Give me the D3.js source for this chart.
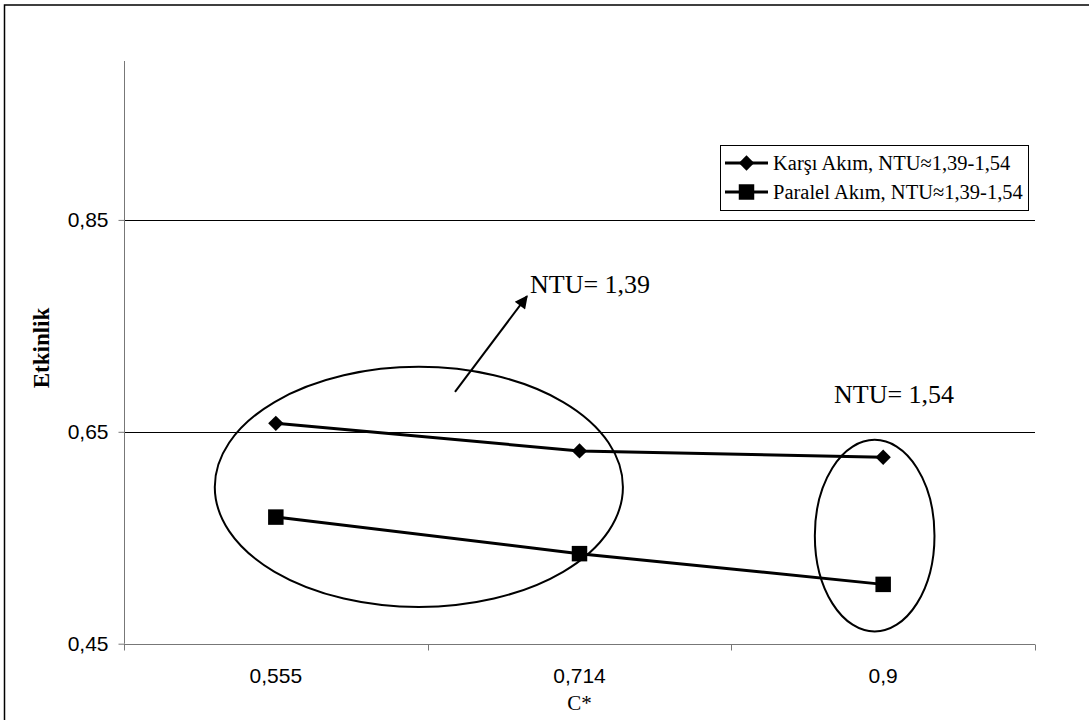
<!DOCTYPE html>
<html>
<head>
<meta charset="utf-8">
<script src="https://cdn.jsdelivr.net/npm/d3@7"></script>
<style>
  body { margin: 0; background: #fff; }
  svg { display: block; }
</style>
</head>
<body>
<svg id="chart"></svg>
<script>
// values
const categories = ["0,555", "0,714", "0,9"];
const karsiAkim = [0.658, 0.632, 0.626];
const paralelAkim = [0.5695, 0.535, 0.506];
const yTicks = [0.45, 0.65, 0.85];
const yDomain = [0.45, 1.0];
const seriesNames = ["Karşı Akım, NTU≈1,39-1,54", "Paralel Akım, NTU≈1,39-1,54"];

// annotations, in data units (u = category slot position 0..3, v = Etkinlik)
const ellipses = [
  { u: 0.971, v: 0.598, ru: 0.672, rv: 0.1133 },
  { u: 2.472, v: 0.552, ru: 0.197, rv: 0.0904 }
];
const arrows = [{ u1: 1.090, v1: 0.6876, u2: 1.327, v2: 0.778 }];
const notes = [
  { u: 1.337, v: 0.781, text: "NTU= 1,39" },
  { u: 2.338, v: 0.677, text: "NTU= 1,54" }
];

const ctx = {
  width: 1089,
  height: 720,
  margin: { top: 61, right: 54, bottom: 76.3, left: 124 }
};

const svg = d3.select("#chart")
  .attr("width", ctx.width)
  .attr("height", ctx.height);

const x0 = ctx.margin.left, x1 = ctx.width - ctx.margin.right;
const y0 = ctx.height - ctx.margin.bottom, y1 = ctx.margin.top;

const xBand = d3.scaleBand().domain(categories).range([x0, x1]);
const uScale = d3.scaleLinear().domain([0, categories.length]).range([x0, x1]);
const yScale = d3.scaleLinear().domain(yDomain).range([y0, y1]);

// chart area frame (runs off the right and bottom edge)
svg.append("rect")
  .attr("x", 4.5).attr("y", 5)
  .attr("width", 1200).attr("height", 800)
  .attr("fill", "none")
  .attr("stroke", "#000")
  .attr("stroke-width", 1.5);

// gridlines
svg.append("g")
  .selectAll("line")
  .data(yTicks.slice(1))
  .join("line")
    .attr("x1", x0).attr("x2", x1)
    .attr("y1", d => Math.round(yScale(d)) + 0.5)
    .attr("y2", d => Math.round(yScale(d)) + 0.5)
    .attr("stroke", "#000")
    .attr("stroke-width", 1);

// y axis
const yAxis = svg.append("g")
  .attr("transform", `translate(${x0 + 0.5},0)`)
  .call(d3.axisLeft(yScale).tickValues(yTicks).tickSize(6).tickPadding(10)
    .tickFormat(d => d3.format(".2f")(d).replace(".", ",")));
yAxis.select(".domain").attr("stroke", "#777").attr("d", `M0,${y0}V${y1}`);
yAxis.selectAll(".tick line").attr("stroke", "#777");
yAxis.selectAll("text")
  .attr("font-family", "Liberation Sans, Arial, sans-serif")
  .attr("font-size", 21)
  .attr("fill", "#000");

// x axis: ticks sit on the category boundaries
const xAxis = svg.append("g")
  .attr("transform", `translate(0,${Math.round(y0) + 0.5})`);
xAxis.append("line")
  .attr("x1", x0).attr("x2", x1)
  .attr("stroke", "#777");
xAxis.selectAll("line.tick")
  .data(d3.range(categories.length + 1))
  .join("line")
    .attr("class", "tick")
    .attr("x1", d => Math.round(uScale(d)) + 0.5)
    .attr("x2", d => Math.round(uScale(d)) + 0.5)
    .attr("y1", 0).attr("y2", 6)
    .attr("stroke", "#777");
xAxis.selectAll("text")
  .data(categories)
  .join("text")
    .attr("x", d => xBand(d) + xBand.bandwidth() / 2)
    .attr("y", 38)
    .attr("text-anchor", "middle")
    .attr("font-family", "Liberation Sans, Arial, sans-serif")
    .attr("font-size", 21)
    .text(d => d);

// axis titles
svg.append("text")
  .attr("x", (x0 + x1) / 2)
  .attr("y", 710)
  .attr("text-anchor", "middle")
  .attr("font-family", "Liberation Serif, Times New Roman, serif")
  .attr("font-size", 21)
  .text("C*");

svg.append("text")
  .attr("transform", "translate(49,348) rotate(-90)")
  .attr("text-anchor", "middle")
  .attr("font-family", "Liberation Serif, Times New Roman, serif")
  .attr("font-weight", "bold")
  .attr("font-size", 23)
  .text("Etkinlik");

// series
const cx = (d, i) => xBand(categories[i]) + xBand.bandwidth() / 2;
const line = d3.line().x(cx).y(d => yScale(d));
const diamond = d3.symbol().type(d3.symbolDiamond2).size(150);
const square = d3.symbol().type(d3.symbolSquare).size(240);

[[karsiAkim, diamond], [paralelAkim, square]].forEach(([vals, sym]) => {
  svg.append("path")
    .datum(vals)
    .attr("d", line)
    .attr("fill", "none")
    .attr("stroke", "#000")
    .attr("stroke-width", 3);
  svg.append("g")
    .selectAll("path")
    .data(vals)
    .join("path")
      .attr("transform", (d, i) => `translate(${cx(d, i)},${yScale(d)})`)
      .attr("d", sym)
      .attr("fill", "#000");
});

// annotations
svg.append("defs").append("marker")
  .attr("id", "head")
  .attr("viewBox", "0 0 10 10")
  .attr("refX", 9).attr("refY", 5)
  .attr("markerWidth", 7.5).attr("markerHeight", 6.5)
  .attr("markerUnits", "strokeWidth")
  .attr("orient", "auto")
  .append("path")
    .attr("d", "M0,0L10,5L0,10z")
    .attr("fill", "#000");

const pxPerU = uScale(1) - uScale(0);
const pxPerV = yScale(0) - yScale(1);
svg.append("g")
  .selectAll("ellipse")
  .data(ellipses)
  .join("ellipse")
    .attr("cx", d => uScale(d.u))
    .attr("cy", d => yScale(d.v))
    .attr("rx", d => d.ru * pxPerU)
    .attr("ry", d => d.rv * pxPerV)
    .attr("fill", "none")
    .attr("stroke", "#000")
    .attr("stroke-width", 2);

svg.append("g")
  .selectAll("line")
  .data(arrows)
  .join("line")
    .attr("x1", d => uScale(d.u1)).attr("y1", d => yScale(d.v1))
    .attr("x2", d => uScale(d.u2)).attr("y2", d => yScale(d.v2))
    .attr("stroke", "#000")
    .attr("stroke-width", 2)
    .attr("marker-end", "url(#head)");

svg.append("g")
  .selectAll("text")
  .data(notes)
  .join("text")
    .attr("x", d => uScale(d.u))
    .attr("y", d => yScale(d.v))
    .attr("font-family", "Liberation Serif, Times New Roman, serif")
    .attr("font-size", 26)
    .text(d => d.text);

// legend
const legend = svg.append("g").attr("transform", "translate(720,145)");
legend.append("rect")
  .attr("x", 0.5).attr("y", 0.5)
  .attr("width", 308).attr("height", 65)
  .attr("fill", "#fff")
  .attr("stroke", "#000")
  .attr("stroke-width", 1);
const rows = legend.selectAll("g.row")
  .data(seriesNames)
  .join("g")
    .attr("class", "row")
    .attr("transform", (d, i) => `translate(0,${18 + i * 29})`);
rows.append("line")
  .attr("x1", 5).attr("x2", 48)
  .attr("stroke", "#000")
  .attr("stroke-width", 3);
rows.append("path")
  .attr("transform", "translate(26.5,0)")
  .attr("d", (d, i) => (i === 0 ? diamond : square)())
  .attr("fill", "#000");
rows.append("text")
  .attr("x", 53)
  .attr("dy", "0.33em")
  .attr("font-family", "Liberation Serif, Times New Roman, serif")
  .attr("font-size", 20.5)
  .text(d => d);
</script>
</body>
</html>
